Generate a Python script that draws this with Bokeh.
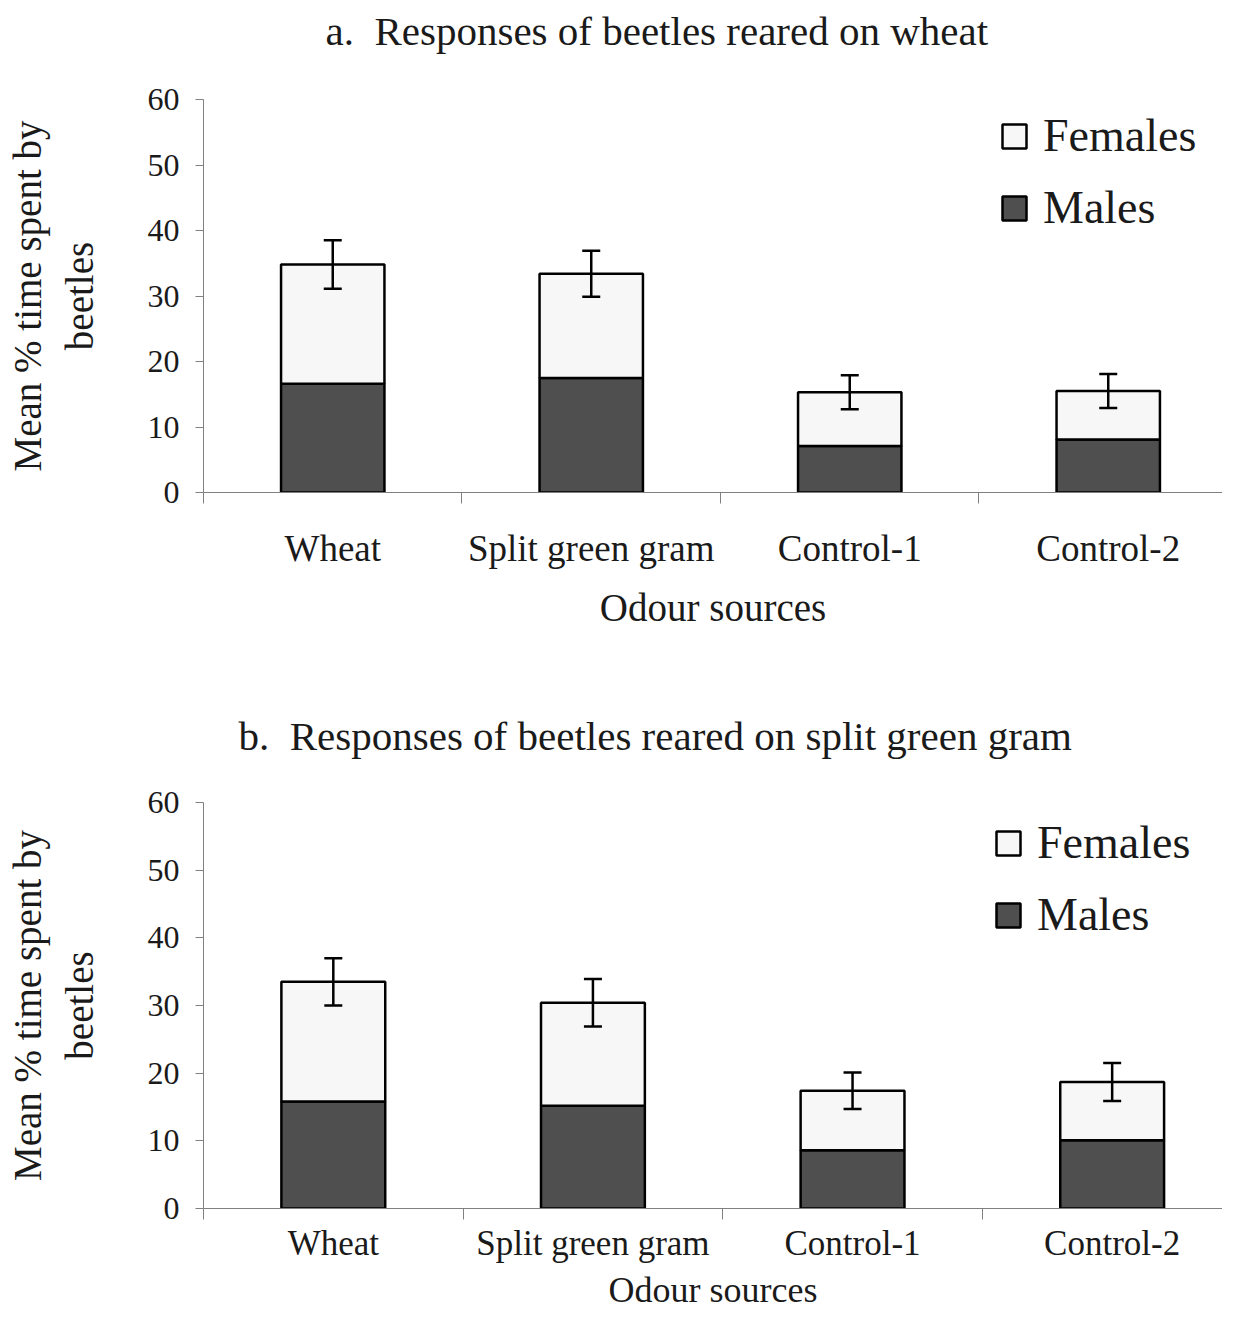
from bokeh.plotting import figure
from bokeh.models import (ColumnDataSource, FixedTicker, Legend, LegendItem, Title,
                          Whisker, TeeHead, Range1d)
from bokeh.layouts import column
from bokeh.embed import file_html
from bokeh.resources import INLINE

categories = ["Wheat", "Split green gram", "Control-1", "Control-2"]
y_ticks = [0, 10, 20, 30, 40, 50, 60]

title_a = "a.\u00a0 Responses of beetles reared on wheat"
a_males = [16.6, 17.5, 7.1, 8.1]
a_females = [18.2, 15.9, 8.2, 7.4]
a_err = [3.7, 3.5, 2.6, 2.6]

title_b = "b.\u00a0 Responses of beetles reared on split green gram"
b_males = [15.8, 15.2, 8.6, 10.1]
b_females = [17.7, 15.2, 8.8, 8.6]
b_err = [3.5, 3.5, 2.7, 2.8]

FONT = "Liberation Serif"
TXT = "#1a1a1a"
AXIS = "#808080"
MALE = "#4f4f4f"
FEMALE = "#f7f7f7"


def make_panel(title, males, females, err, height, border_left, spacer_size,
               border_bottom, title_offset, legend_x, legend_bottom, cat_size,
               xlabel_size, cat_standoff, xlabel_standoff, x_end):
    xs = [i + 0.5 for i in range(len(categories))]
    totals = [m + f for m, f in zip(males, females)]
    src = ColumnDataSource(dict(
        x=xs, males=males, totals=totals,
        upper=[t + e for t, e in zip(totals, err)],
        lower=[t - e for t, e in zip(totals, err)],
    ))
    p = figure(width=1222, height=height, x_range=Range1d(0, x_end),
               y_range=Range1d(0, 60), output_backend="svg", toolbar_location=None,
               title=None)
    p.min_border_left = border_left
    p.min_border_right = 0
    p.min_border_top = 0
    p.min_border_bottom = border_bottom
    p.outline_line_color = None
    p.xgrid.grid_line_color = None
    p.ygrid.grid_line_color = None

    spacer = Title(text=" ", text_font_size=f"{spacer_size}px", text_font=FONT)
    p.add_layout(spacer, "above")
    t = Title(text=title, align="left", offset=title_offset, text_font=FONT,
              text_font_size="41px", text_font_style="normal", text_color=TXT)
    p.add_layout(t, "above")

    r_m = p.vbar(x="x", top="males", bottom=0, width=0.4, source=src,
                 fill_color=MALE, line_color="black", line_width=2.5)
    r_f = p.vbar(x="x", bottom="males", top="totals", width=0.4, source=src,
                 fill_color=FEMALE, line_color="black", line_width=2.5)

    w = Whisker(source=src, base="x", upper="upper", lower="lower",
                line_color="black", line_width=2.5, level="overlay",
                upper_head=TeeHead(size=18, line_width=2.5, line_color="black"),
                lower_head=TeeHead(size=18, line_width=2.5, line_color="black"))
    p.add_layout(w)

    # x axis: labels at centres, tick marks at category boundaries
    xa = p.xaxis[0]
    xa.ticker = FixedTicker(ticks=xs, minor_ticks=list(range(len(categories) + 1)))
    xa.major_label_overrides = {x: c for x, c in zip(xs, categories)}
    xa.major_tick_line_color = None
    xa.major_tick_out = 0
    xa.major_tick_in = 0
    xa.minor_tick_out = 11
    xa.minor_tick_in = 0
    xa.minor_tick_line_color = AXIS
    xa.axis_line_color = AXIS
    xa.major_label_text_font = FONT
    xa.major_label_text_font_size = f"{cat_size}px"
    xa.major_label_text_color = TXT
    xa.major_label_standoff = cat_standoff
    xa.axis_label = "Odour sources"
    xa.axis_label_text_font = FONT
    xa.axis_label_text_font_size = f"{xlabel_size}px"
    xa.axis_label_text_font_style = "normal"
    xa.axis_label_text_color = TXT
    xa.axis_label_standoff = xlabel_standoff

    ya = p.yaxis[0]
    ya.ticker = FixedTicker(ticks=y_ticks, minor_ticks=[])
    ya.major_tick_out = 8
    ya.major_tick_in = 0
    ya.major_tick_line_color = AXIS
    ya.minor_tick_line_color = None
    ya.axis_line_color = AXIS
    ya.major_label_text_font = FONT
    ya.major_label_text_font_size = "32px"
    ya.major_label_text_color = TXT
    ya.major_label_standoff = 16
    ya.axis_label = "Mean % time spent by\nbeetles"
    ya.axis_label_text_font = FONT
    ya.axis_label_text_font_size = "39px"
    ya.axis_label_text_font_style = "normal"
    ya.axis_label_text_color = TXT
    ya.axis_label_standoff = 44

    legend = Legend(items=[LegendItem(label="Females", renderers=[r_f]),
                           LegendItem(label="Males", renderers=[r_m])],
                    location=(legend_x, legend_bottom),
                    glyph_width=30, glyph_height=30, label_standoff=14,
                    label_text_font=FONT, label_text_font_size="46px",
                    label_text_color=TXT, spacing=19, padding=10,
                    border_line_color=None, background_fill_alpha=0)
    p.add_layout(legend)
    return p


pa = make_panel(title_a, a_males, a_females, a_err, height=705, border_left=201,
                spacer_size=26, border_bottom=213, title_offset=122,
                legend_x=796, legend_bottom=258, cat_size=37, xlabel_size=39,
                cat_standoff=24, xlabel_standoff=14, x_end=3.942)
pb = make_panel(title_b, b_males, b_females, b_err, height=613, border_left=203,
                spacer_size=25, border_bottom=110, title_offset=35,
                legend_x=790, legend_bottom=267, cat_size=35, xlabel_size=36,
                cat_standoff=4, xlabel_standoff=4, x_end=3.925)

layout = column(pa, pb, spacing=0)
open("out.html", "w").write(file_html(layout, INLINE))
